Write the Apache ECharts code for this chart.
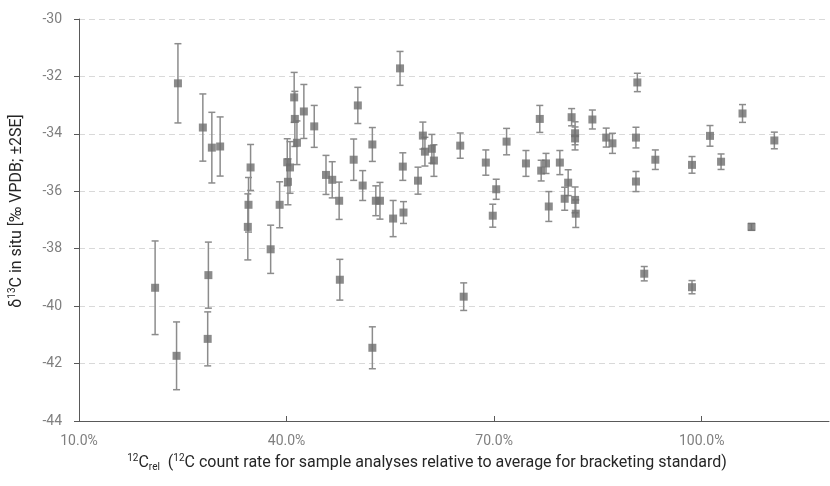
<!DOCTYPE html>
<html>
<head>
<meta charset="utf-8">
<script src="https://cdn.jsdelivr.net/npm/echarts@6/dist/echarts.min.js"></script>
<style>
  html, body { margin: 0; padding: 0; background: #fff; }
  #chart { width: 830px; height: 486px; }
</style>
</head>
<body>
<div id="chart"></div>
<script>
    // 12C_rel in percent (x), d13C in situ (y), +-2SE (error bar half length)
    var xPct = [21.0, 24.3, 24.1, 27.9, 29.2, 30.4, 28.7, 28.6, 34.8, 34.5,
        34.4, 37.7, 39.0, 40.1, 40.5, 40.2, 41.1, 41.2, 41.5, 42.5,
        44.0, 45.7, 46.6, 47.6, 47.7, 50.3, 49.7, 51.0, 52.4, 52.4,
        52.9, 53.5, 56.4, 55.4, 56.8, 56.9, 59.0, 59.7, 60.0, 61.0,
        61.3, 65.1, 65.6, 68.8, 70.3, 69.8, 71.8, 74.6, 76.6, 76.8,
        77.5, 77.9, 79.5, 80.7, 80.2, 81.2, 81.7, 81.7, 81.7, 81.8,
        84.2, 86.2, 87.1, 90.7, 90.5, 90.5, 91.7, 93.3, 98.6, 98.6,
        101.2, 102.8, 105.9, 107.2, 110.5];
    var d13C = [-39.36, -32.24, -41.73, -33.78, -34.48, -34.44, -38.92, -41.14, -35.17, -36.47,
        -37.24, -38.02, -36.47, -34.99, -35.17, -35.67, -32.73, -33.48, -34.31, -33.22,
        -33.74, -35.43, -35.60, -36.33, -39.08, -33.01, -34.90, -35.80, -34.37, -41.45,
        -36.33, -36.33, -31.72, -36.95, -35.14, -36.74, -35.63, -34.06, -34.62, -34.52,
        -34.93, -34.41, -39.67, -35.00, -35.93, -36.85, -34.27, -35.03, -33.48, -35.28,
        -35.03, -36.53, -35.00, -35.70, -36.26, -33.42, -33.98, -34.16, -36.30, -36.78,
        -33.50, -34.13, -34.33, -32.21, -34.13, -35.66, -38.87, -34.90, -35.08, -39.34,
        -34.07, -34.97, -33.29, -37.24, -34.23];
    var err2SE = [1.63, 1.38, 1.18, 1.17, 1.23, 1.03, 1.15, 0.94, 0.80, 0.95,
        1.15, 0.84, 0.80, 0.82, 0.90, 0.80, 0.87, 0.96, 0.76, 0.94,
        0.73, 0.68, 0.63, 0.65, 0.71, 0.63, 0.72, 0.52, 0.59, 0.73,
        0.52, 0.64, 0.59, 0.63, 0.48, 0.38, 0.47, 0.47, 0.50, 0.50,
        0.55, 0.44, 0.48, 0.44, 0.35, 0.40, 0.46, 0.45, 0.47, 0.36,
        0.35, 0.52, 0.42, 0.45, 0.40, 0.30, 0.40, 0.40, 0.45, 0.48,
        0.33, 0.33, 0.35, 0.32, 0.36, 0.35, 0.25, 0.34, 0.29, 0.23,
        0.36, 0.27, 0.31, 0.12, 0.29];
    var xTicks = [10, 40, 70, 100];

    var font = "Roboto, sans-serif";

    var points = [], bars = [];
    for (var i = 0; i < xPct.length; i++) {
        points.push([xPct[i], d13C[i]]);
        bars.push([xPct[i], d13C[i] - err2SE[i], d13C[i] + err2SE[i]]);
    }

    var chart = echarts.init(document.getElementById('chart'));
    chart.setOption({
        animation: false,
        textStyle: { fontFamily: font },
        grid: { left: 79, right: 1, top: 19, bottom: 65 },
        xAxis: {
            type: 'value',
            min: 10,
            max: 118.4,
            axisLine: { lineStyle: { color: '#595959', width: 1 } },
            axisTick: { customValues: xTicks, inside: true, length: 5, lineStyle: { color: '#595959' } },
            axisLabel: {
                customValues: xTicks,
                color: '#7f7f7f', fontSize: 14, margin: 13, fontFamily: font,
                formatter: function (v) { return v.toFixed(1) + '%'; }
            },
            splitLine: { show: false }
        },
        yAxis: {
            type: 'value',
            min: -44,
            max: -30,
            interval: 2,
            axisLine: { show: true, lineStyle: { color: '#595959', width: 1 } },
            axisTick: { show: true, length: 5, lineStyle: { color: '#595959' } },
            axisLabel: { color: '#7f7f7f', fontSize: 14, margin: 17, fontFamily: font },
            splitLine: { show: true, lineStyle: { color: '#d9d9d9', type: [6, 4], width: 1 } }
        },
        series: [{
            type: 'custom',
            data: bars,
            z: 2,
            renderItem: function (params, api) {
                var x = api.value(0);
                var lo = api.coord([x, api.value(1)]);
                var hi = api.coord([x, api.value(2)]);
                var cap = 3.5;
                var st = { stroke: '#8c8c8c', lineWidth: 1.5 };
                return {
                    type: 'group',
                    children: [
                        { type: 'line', shape: { x1: lo[0], y1: lo[1], x2: hi[0], y2: hi[1] }, style: st },
                        { type: 'line', shape: { x1: lo[0] - cap, y1: lo[1], x2: lo[0] + cap, y2: lo[1] }, style: st },
                        { type: 'line', shape: { x1: hi[0] - cap, y1: hi[1], x2: hi[0] + cap, y2: hi[1] }, style: st }
                    ]
                };
            }
        }, {
            type: 'scatter',
            data: points,
            z: 3,
            symbol: 'rect',
            symbolSize: 8,
            itemStyle: { color: '#6e6e6e' }
        }],
        graphic: [{
            type: 'text',
            x: 17,
            y: 211,
            rotation: Math.PI / 2,
            style: {
                text: '{n|δ}{sup|13}{n|C in situ [‰ VPDB; ±2SE]}',
                align: 'center',
                verticalAlign: 'middle',
                fill: '#262626',
                fontFamily: font,
                rich: {
                    n: { fontSize: 16, lineHeight: 19, fontFamily: font, fill: '#262626' },
                    sup: { fontSize: 10, lineHeight: 19, verticalAlign: 'top', fontFamily: font, fill: '#262626' }
                }
            }
        }, {
            type: 'text',
            x: 427,
            y: 463,
            style: {
                text: '{sup|12}{n|C}{sub|rel}{n|  (}{sup|12}{n|C count rate for sample analyses relative to average for bracketing standard)}',
                align: 'center',
                verticalAlign: 'middle',
                fill: '#262626',
                fontFamily: font,
                rich: {
                    n: { fontSize: 16, lineHeight: 19, fontFamily: font, fill: '#262626' },
                    sup: { fontSize: 10, lineHeight: 19, verticalAlign: 'top', fontFamily: font, fill: '#262626' },
                    sub: { fontSize: 10, lineHeight: 19, verticalAlign: 'bottom', fontFamily: font, fill: '#262626' }
                }
            }
        }]
    });
</script>
</body>
</html>
